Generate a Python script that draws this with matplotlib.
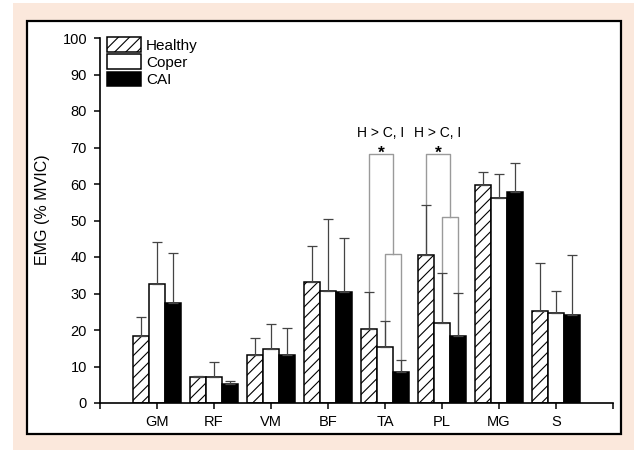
import matplotlib
matplotlib.use("Agg")
import matplotlib.pyplot as plt
import numpy as np
from matplotlib.patches import Rectangle

plt.rcParams['font.family'] = ['Liberation Sans', 'DejaVu Sans']
plt.rcParams['hatch.linewidth'] = 0.8
plt.rcParams['hatch.color'] = '#555555'

muscles = ["GM", "RF", "VM", "BF", "TA", "PL", "MG", "S"]
groups = ["Healthy", "Coper", "CAI"]

healthy_mean = [18.4, 7.1, 13.1, 33.2, 20.2, 40.5, 59.7, 25.2]
healthy_sd = [5.1, 0.3, 4.7, 9.8, 10.2, 13.7, 3.6, 13.2]
coper_mean = [32.6, 7.2, 14.8, 30.7, 15.3, 21.9, 56.2, 24.6]
coper_sd = [11.5, 4.0, 6.8, 19.7, 7.2, 13.7, 6.5, 6.1]
cai_mean = [27.4, 5.2, 13.1, 30.4, 8.5, 18.4, 57.8, 24.1]
cai_sd = [13.6, 0.8, 7.5, 14.8, 3.3, 11.7, 8.0, 16.5]

# significance brackets: muscle, outer bracket height, inner bracket height, label
sig_muscles = ["TA", "PL"]
sig_outer = [68.2, 68.2]
sig_inner = [40.8, 51.0]
sig_label = "H > C, I"

yticks = [0, 10, 20, 30, 40, 50, 60, 70, 80, 90, 100]

W, H = 634, 450
fig = plt.figure(figsize=(W / 100, H / 100), dpi=100, facecolor='white')

# page background and framed panel
fig.patches.append(Rectangle((13 / W, 0), 1 - 13 / W, 1 - 3 / H, transform=fig.transFigure,
                             facecolor='#fbe8dc', edgecolor='none', zorder=-10))
fig.patches.append(Rectangle((27 / W, 1 - 434 / H), (621 - 27) / W, (434 - 21) / H,
                             transform=fig.transFigure, facecolor='white',
                             edgecolor='black', linewidth=1.6, zorder=-9))

ax = fig.add_axes([100 / W, 1 - 403 / H, (613 - 100) / W, (403 - 38) / H])
ax.set_facecolor('none')

x = np.arange(1, len(muscles) + 1)
w = 0.275
err_kw = dict(ecolor='#444444', elinewidth=0.9, capsize=3.5, capthick=0.9)

series = [
    (healthy_mean, healthy_sd, dict(facecolor='white', hatch='///'), -w),
    (coper_mean, coper_sd, dict(facecolor='white'), 0.0),
    (cai_mean, cai_sd, dict(facecolor='black'), w),
]
handles = []
for (mean, sd, style, off), name in zip(series, groups):
    b = ax.bar(x + off, mean, width=w, edgecolor='black', linewidth=1.1,
               yerr=[np.zeros(len(sd)), sd], error_kw=err_kw, label=name,
               zorder=2, **style)
    handles.append(b)

# nested significance brackets
bc = '#9a9a9a'
for m, top, inner in zip(sig_muscles, sig_outer, sig_inner):
    i = muscles.index(m)
    xh = x[i] - w
    xc = x[i]
    xi = x[i] + w
    xmid = (xc + xi) / 2
    ax.plot([xh, xh, xmid, xmid], [healthy_mean[i], top, top, inner],
            color=bc, lw=1.0, zorder=1)
    ax.plot([xc, xc, xi, xi], [coper_mean[i], inner, inner, cai_mean[i]],
            color=bc, lw=1.0, zorder=1)
    xm = (xh + xmid) / 2
    ax.text(xm, top - 0.9, "*", ha='center', va='baseline', fontsize=12.5,
            fontweight='bold')
    ax.text(xm, 72.0, sig_label, ha='center', va='bottom', fontsize=10)

ax.set_xlim(0, 9)
ax.set_ylim(0, 100)
ax.set_xticks(range(0, 10))
ax.set_xticklabels([""] + muscles + [""], fontsize=10.5)
ax.set_yticks(yticks)
ax.set_yticklabels([str(v) for v in yticks], fontsize=10.5)
ax.tick_params(direction='out', length=4.3, width=1.1)
ax.tick_params(axis='y', pad=5)
ax.tick_params(axis='x', pad=4)
for s in ['top', 'right']:
    ax.spines[s].set_visible(False)
for s in ['left', 'bottom']:
    ax.spines[s].set_linewidth(1.2)
ax.set_ylabel("EMG (% MVIC)", fontsize=11.5)
ax.yaxis.set_label_coords(-0.0975, 0.529)

leg = ax.legend(handles=handles, loc='upper left',
                bbox_to_anchor=(107 / W, 1 - 37 / H), bbox_transform=fig.transFigure,
                frameon=False, fontsize=11, handlelength=2.2, handleheight=1.1,
                labelspacing=0.12, handletextpad=0.35, borderpad=0, borderaxespad=0)

fig.savefig("out.png", dpi=100, facecolor=fig.get_facecolor())
